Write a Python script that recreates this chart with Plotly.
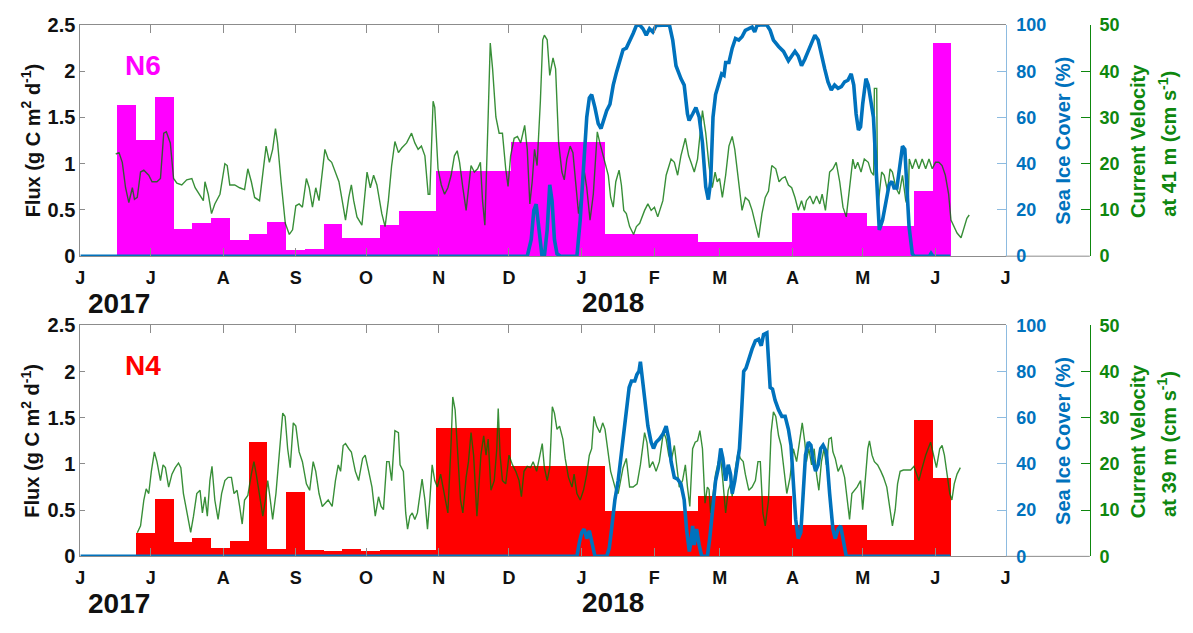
import pandas as pd
import plotly.graph_objects as go

# ---------------------------------------------------------------- data
T0 = pd.Timestamp("2017-06-01")          # day 0 of the mooring record

MONTH_TICKS = ["2017-06-01", "2017-07-01", "2017-08-01", "2017-09-01", "2017-10-01",
               "2017-11-01", "2017-12-01", "2018-01-01", "2018-02-01", "2018-03-01",
               "2018-04-01", "2018-05-01", "2018-06-01", "2018-07-01"]
MONTH_LABELS = ["J", "J", "A", "S", "O", "N", "D", "J", "F", "M", "A", "M", "J", "J"]

FLUX_TICKS = [0, 0.5, 1, 1.5, 2, 2.5]
FLUX_LABELS = ["0", "0.5", "1", "1.5", "2", "2.5"]
ICE_TICKS = [0, 20, 40, 60, 80, 100]
VEL_TICKS = [0, 10, 20, 30, 40, 50]

# sediment-trap cup boundaries (open/close dates) and carbon flux per cup
N6_CUPS = ["2017-06-17", "2017-06-25", "2017-07-03", "2017-07-11", "2017-07-19",
           "2017-07-27", "2017-08-04", "2017-08-12", "2017-08-20", "2017-08-28",
           "2017-09-05", "2017-09-13", "2017-09-21", "2017-09-29", "2017-10-07",
           "2017-10-15", "2017-10-31", "2017-12-02", "2018-01-11", "2018-02-20",
           "2018-04-01", "2018-05-03", "2018-05-23", "2018-05-31", "2018-06-08"]
N6_FLUX = [1.64, 1.26, 1.72, 0.29, 0.355, 0.415, 0.18, 0.235, 0.365, 0.07,
           0.075, 0.345, 0.195, 0.195, 0.34, 0.485, 0.92, 1.24, 0.24, 0.155,
           0.47, 0.33, 0.71, 2.30]

N4_CUPS = ["2017-06-25", "2017-07-03", "2017-07-11", "2017-07-19",
           "2017-07-27", "2017-08-04", "2017-08-12", "2017-08-20", "2017-08-28",
           "2017-09-05", "2017-09-13", "2017-09-21", "2017-09-29", "2017-10-07",
           "2017-10-15", "2017-10-31", "2017-12-02", "2018-01-11", "2018-02-20",
           "2018-04-01", "2018-05-03", "2018-05-23", "2018-05-31", "2018-06-08"]
N4_FLUX = [0.245, 0.62, 0.15, 0.195, 0.087, 0.157, 1.23, 0.08, 0.69, 0.065,
           0.055, 0.08, 0.055, 0.065, 0.065, 1.39, 0.975, 0.49, 0.645, 0.335,
           0.178, 1.475, 0.84]

# current velocity at 41 m, N6 (day of record, cm/s)
N6_VEL_DAY = [15.1, 16.5, 17.9, 19.3, 20.7, 22.2, 23.1, 24.3, 25.7, 27.1, 29.2, 30.6, 32.7, 34.2,
              35.6, 36.7, 38.4, 39.8, 41.2, 43.3, 45.4, 47.6, 49.0, 51.1, 52.5, 53.2, 54.6, 56.0,
              57.4, 59.6, 61.7, 62.7, 63.8, 65.9, 68.0, 70.1, 71.5, 73.0, 74.4, 76.5, 77.9, 79.3,
              80.7, 82.1, 83.3, 84.2, 85.7, 87.5, 89.2, 90.6, 92.0, 93.4, 94.8, 96.5, 97.7, 99.1,
              100.5, 101.9, 104.4, 105.8, 107.3, 108.9, 110.4, 111.8, 113.2, 114.6, 115.7, 116.7,
              118.1, 120.2, 122.4, 123.8, 125.2, 126.6, 128.7, 130.1, 131.5, 132.9, 134.3, 135.8,
              137.2, 139.3, 141.4, 142.8, 144.2, 145.6, 147.1, 148.5, 149.2, 150.6, 151.3, 152.7,
              154.1, 155.5, 156.9, 158.3, 159.7, 160.9, 161.9, 163.3, 164.7, 166.8, 168.2, 169.6,
              170.8, 171.7, 172.7, 174.1, 175.0, 176.0, 177.4, 178.8, 180.2, 181.6, 182.6, 183.7,
              185.2, 186.6, 188.0, 189.7, 190.8, 191.9, 192.9, 193.9, 195.0, 196.4, 197.4, 198.1,
              199.3, 200.4, 201.8, 202.9, 204.2, 205.6, 206.6, 207.7, 209.1, 210.3, 211.3, 212.7,
              214.1, 215.2, 216.2, 217.6, 219.0, 220.7, 221.8, 223.3, 225.4, 226.4, 227.5, 228.6,
              230.0, 231.0, 232.0, 233.1, 234.5, 236.2, 237.4, 238.8, 240.9, 242.3, 243.7, 245.1,
              246.5, 248.7, 250.1, 252.2, 253.6, 255.0, 256.4, 258.3, 259.7, 260.7, 262.1, 263.5,
              264.9, 265.6, 267.0, 268.4, 269.8, 271.0, 271.9, 272.9, 274.1, 275.5, 276.9, 278.3,
              279.4, 280.4, 281.4, 282.5, 283.9, 285.4, 286.8, 288.2, 289.6, 291.0, 292.4, 293.8,
              295.2, 296.9, 298.3, 299.5, 300.9, 302.3, 303.7, 305.1, 306.5, 307.9, 309.1, 310.0,
              311.5, 312.9, 314.3, 315.7, 316.7, 318.1, 319.9, 321.3, 322.7, 324.2, 325.6, 327.0,
              328.4, 329.8, 330.8, 331.9, 333.3, 334.7, 336.4, 337.6, 338.7, 339.0, 340.0, 340.4,
              341.1, 342.1, 343.2, 344.6, 345.7, 346.7, 348.2, 349.6, 351.0, 352.4, 353.4, 353.9,
              355.2, 356.6, 358.0, 359.4, 360.9, 362.3, 363.7, 365.1, 366.5, 367.9, 369.3, 370.7,
              371.7, 372.9, 374.3, 376.0, 377.1, 378.5, 379.5]
N6_VEL = [22.1, 22.4, 20.3, 14.8, 11.6, 14.8, 12.3, 12.7, 18.2, 18.6, 17.5, 16.1, 16.1, 16.8,
          26.6, 26.9, 24.5, 16.8, 15.8, 15.4, 16.5, 16.8, 14.8, 13.0, 12.0, 16.1, 13.4, 9.2,
          11.3, 13.4, 20.0, 19.6, 15.4, 15.4, 14.8, 14.4, 18.9, 16.1, 12.7, 12.0, 17.5, 23.8,
          20.3, 23.1, 27.6, 24.5, 16.1, 7.1, 4.7, 5.7, 10.9, 11.3, 10.6, 16.8, 14.8, 10.6,
          14.8, 12.0, 23.1, 21.0, 20.3, 17.9, 16.1, 12.0, 7.8, 12.7, 15.4, 12.0,
          8.5, 6.7, 18.2, 14.8, 17.5, 15.4, 9.2, 6.4, 12.0, 19.6, 24.8, 22.4,
          23.4, 24.5, 26.6, 24.5, 23.1, 23.8, 21.7, 13.4, 13.4, 33.5, 32.2, 18.9,
          15.4, 13.4, 14.8, 17.5, 21.7, 22.8, 20.3, 14.8, 9.9, 19.6, 18.2, 18.9,
          20.3, 12.0, 6.7, 30.1, 46.1, 40.5, 30.1, 26.6, 26.6, 18.9, 15.1, 21.7,
          25.5, 25.9, 24.5, 28.3, 23.1, 11.3, 16.1, 23.1, 19.6, 33.5, 46.8, 47.8,
          46.8, 39.1, 42.9, 40.5, 24.5, 18.2, 16.5, 21.0, 23.8, 22.4, 17.5, 9.2,
          14.1, 18.2, 14.8, 7.8, 13.4, 26.9, 24.5, 21.7, 17.5, 12.7, 10.6, 16.1,
          18.6, 15.4, 9.9, 9.2, 6.4, 4.7, 6.4, 7.1, 9.9, 11.3, 9.9, 10.6,
          8.5, 12.0, 17.5, 21.0, 20.3, 17.5, 21.7, 25.5, 21.7, 20.3, 18.2, 21.0,
          27.3, 31.5, 26.6, 19.6, 14.8, 18.2, 16.1, 16.8, 12.7, 17.5, 23.8, 25.9,
          23.1, 18.9, 15.4, 9.9, 12.7, 12.0, 9.9, 7.1, 4.0, 9.2, 12.7, 14.1,
          19.6, 18.9, 16.1, 16.8, 17.2, 15.4, 14.8, 12.7, 9.9, 12.0, 9.9, 12.0,
          13.0, 11.3, 13.0, 11.3, 13.4, 9.9, 18.2, 18.9, 20.3, 16.1, 10.6, 8.5,
          14.8, 21.0, 18.9, 20.3, 18.2, 21.0, 20.3, 18.2, 17.5, 36.3, 36.3, 9.9,
          13.4, 18.2, 17.5, 14.1, 18.9, 18.2, 14.8, 13.4, 17.5, 12.0, 10.6, 21.0,
          18.9, 21.0, 18.9, 21.0, 18.9, 21.0, 18.9, 20.3, 20.3, 19.6, 17.5, 13.4,
          7.8, 6.4, 5.0, 4.0, 5.7, 8.2, 8.9]

# sea ice cover above N6 (day of record, %)
N6_ICE_DAY = [0, 190.8, 192.5, 193.6, 194.6, 195.7, 197.1, 198.1, 199.3, 200.4, 201.4, 202.4,
              203.5, 205.0, 212.0, 213.4, 214.8, 216.2, 217.3, 218.3, 219.7, 221.1, 222.3, 223.3,
              224.7, 226.1, 227.5, 228.9, 230.3, 231.7, 233.1, 234.5, 236.0, 237.4, 238.8, 240.2,
              241.6, 243.0, 244.4, 245.8, 248.7, 251.5, 252.9, 254.3, 256.4, 257.8, 259.2, 259.9,
              261.4, 262.8, 264.2, 265.6, 267.0, 268.1, 269.1, 270.1, 271.2, 272.6, 273.8, 274.8,
              275.5, 276.9, 278.3, 279.7, 281.1, 282.5, 283.9, 285.4, 286.8, 287.9, 288.9, 290.3,
              293.1, 294.5, 295.9, 298.1, 300.2, 302.3, 303.7, 305.1, 306.5, 307.9, 309.3, 310.8,
              312.2, 313.6, 315.0, 316.4, 317.8, 319.2, 320.6, 322.0, 323.5, 324.9, 326.3, 327.7,
              329.1, 330.2, 331.2, 332.2, 333.1, 334.0, 335.4, 336.4, 337.6, 338.6, 339.3, 340.1,
              341.1, 342.5, 343.9, 345.3, 346.5, 347.4, 348.6, 350.0, 351.0, 352.0, 352.8, 353.8,
              355.2, 356.0, 362.5, 363.2, 364.0, 371.4]
N6_ICE = [0, 0, 7.2, 19.8, 22.5, 12.8, 0, 0, 11.4, 30.9, 23.9, 7.2,
          1.0, 0, 0, 15.6, 39.2, 60.1, 68.5, 69.9, 64.3, 57.3, 55.2, 58.7,
          62.9, 65.7, 74.0, 79.6, 85.2, 89.3, 90.0, 92.8, 96.3, 99.8, 100, 98.4,
          95.6, 98.4, 97.0, 99.8, 100, 100, 93.5, 82.4, 76.8, 74.0, 61.5, 58.7,
          61.5, 64.3, 60.1, 49.0, 30.0, 24.5, 32.3, 60.1, 69.9, 75.4, 78.9, 78.2,
          83.8, 83.8, 90.0, 94.2, 93.5, 94.9, 97.7, 98.4, 99.1, 97.0, 99.8, 100,
          100, 97.7, 93.5, 90.7, 88.6, 84.5, 86.6, 88.6, 86.6, 82.4, 85.2, 88.6,
          92.1, 95.6, 93.5, 88.0, 81.0, 75.4, 71.9, 74.0, 72.6, 73.3, 75.4, 76.1,
          78.9, 74.0, 61.5, 54.6, 55.9, 65.7, 76.8, 74.0, 67.1, 60.1, 46.2, 28.1,
          11.4, 15.6, 23.9, 30.9, 32.3, 29.5, 29.5, 40.6, 47.6, 46.2, 32.3, 12.8,
          1.0, 0, 0, 1.2, 0, 0]

# current velocity at 39 m, N4 (day of record, cm/s)
N4_VEL_DAY = [24.3, 25.7, 27.1, 28.1, 29.2, 30.3, 31.6, 32.7, 34.2, 35.3, 36.3, 37.7, 39.1, 40.5,
              41.9, 42.9, 44.0, 45.4, 47.1, 48.3, 49.7, 51.1, 52.1, 53.2, 54.2, 55.3, 56.2, 57.4,
              58.8, 60.3, 61.7, 63.1, 64.5, 65.6, 66.9, 68.0, 69.1, 70.1, 71.5, 73.0, 74.1, 75.1,
              76.5, 77.9, 79.0, 80.0, 81.1, 82.1, 83.5, 85.0, 86.4, 87.4, 88.5, 89.6, 90.9, 92.0,
              93.4, 94.8, 96.5, 97.9, 99.4, 100.5, 101.9, 103.3, 104.4, 105.8, 107.5, 108.9, 110.1,
              111.1, 112.2, 113.2, 114.6, 115.7, 117.4, 118.8, 120.5, 121.6, 123.1, 124.5, 125.9,
              127.3, 128.4, 129.4, 130.8, 131.8, 132.9, 134.3, 135.8, 136.5, 137.9, 138.9, 139.7,
              140.7, 141.7, 142.8, 143.9, 144.9, 145.9, 147.1, 148.2, 149.2, 150.2, 151.3, 152.4,
              153.8, 155.2, 156.9, 158.3, 159.0, 160.0, 161.2, 162.3, 163.3, 164.7, 165.7, 166.8,
              167.9, 169.3, 170.3, 171.0, 172.2, 173.2, 174.1, 175.3, 176.7, 177.8, 178.4, 179.2,
              180.2, 181.6, 183.0, 184.5, 185.9, 187.3, 188.3, 189.4, 190.8, 192.2, 193.3, 194.8,
              196.2, 197.2, 198.1, 199.3, 200.4, 201.5, 202.4, 203.5, 204.6, 206.0, 207.0, 208.4,
              209.9, 210.8, 212.0, 213.4, 214.8, 216.2, 217.3, 218.3, 219.3, 220.4, 221.8, 223.0,
              224.0, 225.0, 226.4, 227.5, 228.6, 229.6, 230.7, 231.7, 233.1, 234.5, 236.0, 237.7,
              239.1, 240.9, 241.9, 243.0, 244.4, 245.8, 247.2, 248.7, 249.4, 250.1, 251.2, 252.2,
              253.6, 254.6, 255.7, 257.1, 258.3, 259.2, 260.2, 261.4, 262.5, 263.5, 264.5, 265.6,
              266.7, 267.7, 268.4, 269.1, 270.1, 271.2, 272.4, 273.4, 274.3, 275.5, 276.6, 277.6,
              278.3, 279.7, 280.8, 281.8, 283.0, 283.9, 285.4, 286.8, 288.2, 289.3, 290.3, 291.4,
              292.4, 293.8, 294.9, 295.9, 296.9, 298.1, 299.2, 300.6, 301.6, 303.0, 304.4, 305.8,
              307.2, 308.2, 309.3, 310.0, 311.0, 312.2, 313.3, 314.3, 315.3, 316.4, 317.5, 318.5,
              319.6, 320.6, 321.3, 322.3, 323.5, 324.9, 326.3, 327.4, 328.4, 329.4, 330.5, 331.6,
              333.1, 334.0, 335.2, 336.2, 336.9, 338.0, 339.0, 340.4, 341.8, 342.9, 344.3, 345.8,
              346.7, 347.9, 348.9, 350.0, 351.4, 352.8, 354.5, 355.9, 357.0, 358.0, 359.0, 360.9,
              363.0, 364.4, 365.5, 366.9, 367.9, 368.9, 370.0, 371.2, 372.1, 373.1, 374.3, 375.7]
N4_VEL = [5.1, 6.6, 12.2, 14.6, 13.6, 18.4, 22.6, 20.5, 16.4, 19.8, 19.2, 15.0, 17.8, 19.2,
          20.2, 19.2, 13.6, 9.4, 5.2, 8.7, 13.6, 14.3, 9.4, 12.9, 8.7, 16.4, 19.5, 12.2,
          8.0, 13.6, 16.4, 17.1, 17.1, 13.6, 14.3, 10.8, 7.0, 12.2, 13.2, 17.8, 20.5, 17.8,
          12.9, 8.7, 12.2, 16.4, 12.2, 8.0, 13.6, 21.9, 31.0, 30.3, 23.3, 19.2, 28.9, 28.2,
          22.6, 20.5, 15.7, 14.3, 20.5, 18.4, 13.6, 10.8, 11.5, 12.2, 10.8, 16.4, 19.8,
          18.4, 24.0, 24.4, 23.3, 22.6, 18.4, 16.4, 21.2, 21.9, 18.4, 15.0, 8.7,
          12.9, 10.8, 10.1, 20.5, 20.5, 16.4, 27.2, 26.8, 19.8, 18.4, 9.4, 5.9,
          8.7, 9.4, 8.0, 9.4, 13.6, 16.7, 12.2, 5.9, 12.2, 19.8, 16.4, 15.0,
          17.8, 13.6, 9.4, 24.7, 34.5, 31.7, 21.9, 12.2, 9.4, 17.1, 20.5, 26.8,
          21.9, 8.7, 16.4, 21.9, 26.1, 21.9, 25.4, 14.3, 16.4, 23.3, 32.0, 21.9,
          16.4, 15.7, 21.9, 19.8, 18.4, 16.4, 12.9, 18.4, 19.5, 19.2, 20.5, 18.4,
          21.9, 24.4, 19.2, 16.4, 19.2, 32.4, 31.0, 27.5, 28.2, 25.4, 21.2, 17.1,
          15.0, 17.8, 13.6, 12.2, 14.3, 17.8, 21.9, 23.3, 30.3, 28.2, 26.8, 28.9,
          27.5, 24.0, 18.4, 16.4, 14.3, 13.6, 16.4, 19.2, 21.2, 15.0, 15.0, 15.7,
          19.8, 26.8, 24.7, 19.2, 20.5, 18.4, 20.5, 26.1, 26.4, 25.4, 21.9, 20.5,
          24.0, 19.2, 15.0, 16.4, 19.8, 15.0, 10.8, 23.3, 24.7, 25.0, 27.2, 23.3,
          11.5, 15.0, 14.5, 9.4, 13.6, 17.8, 20.5, 21.2, 16.4, 9.4, 14.3, 15.7,
          12.9, 19.2, 22.6, 21.2, 20.5, 17.8, 14.3, 15.0, 16.4, 20.5, 20.5, 9.4,
          6.6, 12.2, 26.8, 31.3, 30.3, 26.1, 24.0, 17.8, 13.6, 17.1, 23.3, 20.5,
          26.1, 28.9, 24.7, 20.5, 23.3, 19.8, 23.3, 17.8, 14.3, 20.5, 23.3, 19.8,
          25.4, 25.7, 22.6, 21.2, 18.4, 19.8, 17.1, 12.2, 8.0, 13.6, 14.3, 15.0,
          16.4, 10.1, 17.1, 23.3, 25.0, 21.9, 20.5, 19.8, 18.4, 17.1, 15.0, 9.4,
          6.6, 10.1, 15.7, 18.4, 18.7, 18.7, 18.7, 19.5, 17.8, 16.4, 18.4, 21.9,
          24.7, 21.2, 19.2, 23.3, 24.0, 21.9, 17.8, 13.6, 12.2, 15.7, 17.8, 19.2]

# sea ice cover above N4 (day of record, %)
N4_ICE_DAY = [0, 212.0, 213.1, 214.1, 215.1, 216.2, 217.3, 218.3, 219.7, 224.7, 225.8, 226.8,
              228.2, 229.6, 231.0, 232.0, 233.1, 234.3, 235.3, 236.7, 237.6, 238.5, 239.1, 239.9,
              240.9, 242.3, 243.7, 244.7, 245.8, 247.2, 248.7, 250.1, 251.2, 252.2, 253.6, 255.0,
              256.4, 257.8, 258.8, 260.0, 260.7, 261.4, 262.1, 263.1, 264.2, 265.3, 266.7, 267.7,
              268.7, 269.8, 271.2, 272.4, 273.4, 274.3, 275.5, 276.6, 277.6, 278.3, 279.4, 280.4,
              281.4, 282.2, 283.2, 284.2, 285.4, 286.8, 288.2, 289.6, 290.7, 291.7, 293.1, 293.8,
              294.5, 295.5, 296.6, 298.1, 299.5, 300.9, 302.3, 303.4, 304.4, 305.4, 306.5, 307.6,
              308.6, 309.6, 310.8, 311.9, 312.9, 313.9, 315.0, 316.1, 317.1, 318.5, 319.9, 321.3,
              322.3, 323.5, 324.6, 325.6, 327.0, 371.4]
N4_ICE = [0, 0, 6.3, 10.4, 11.8, 7.7, 11.1, 6.3, 0, 0, 3.5, 11.8,
          24.4, 32.7, 43.9, 55.0, 63.4, 73.1, 75.9, 75.9, 78.7, 80.1, 84.3, 77.3,
          69.0, 56.4, 49.4, 46.7, 49.4, 50.8, 52.9, 56.4, 50.8, 41.1, 34.1, 33.4,
          31.3, 24.4, 11.8, 2.1, 6.3, 13.2, 4.9, 11.8, 4.9, 0, 0, 0,
          7.7, 18.8, 32.7, 38.3, 46.7, 42.5, 32.7, 39.7, 35.5, 27.2, 32.7, 39.7,
          46.7, 60.6, 80.1, 81.5, 85.7, 89.8, 93.3, 94.0, 91.2, 96.1, 96.8, 85.7,
          73.1, 72.4, 67.6, 63.4, 60.6, 60.6, 55.0, 48.1, 30.0, 16.0, 7.7, 10.4,
          27.2, 43.9, 49.4, 48.1, 41.1, 36.9, 39.7, 46.7, 48.1, 45.3, 27.2, 11.8,
          7.7, 11.8, 13.2, 7.7, 0, 0]

# ---------------------------------------------------------------- styling
W, H = 1193, 633
FONT = "Liberation Sans, Arial, sans-serif"
BLACK = "#111111"
AXIS_GREY = "#8c8c8c"
ICE_BLUE = "#0072BD"
ICE_AXIS = "#8dbbe0"
VEL_GREEN = "#0e870e"
VEL_LINE = "rgba(0,112,0,0.78)"

X_LEFT, X_RIGHT, X_VEL = 76, 1009, 1094
PANELS = [  # (top px, bottom px)
    (14.5, 254.0),
    (325.7, 565.0),
]


def px(x):
    return x / W


def py(y):
    return 1 - y / H


def days_to_dates(days):
    return [T0 + pd.Timedelta(days=d) for d in days]


def trap_bars(cups, flux, color):
    edges = pd.to_datetime(cups)
    starts = edges[:-1]
    widths = [(b - a).total_seconds() * 1000 for a, b in zip(edges[:-1], edges[1:])]
    return dict(x=list(starts), y=flux, width=widths, offset=0,
                marker=dict(color=color, line=dict(width=0)), showlegend=False)


def bold(size, color):
    return dict(family=FONT, size=size, color=color, weight="bold")


fig = go.Figure()

stations = [
    dict(name="N6", color="#FF00FF", cups=N6_CUPS, flux=N6_FLUX,
         vel_day=N6_VEL_DAY, vel=N6_VEL, ice_day=N6_ICE_DAY, ice=N6_ICE, depth="41"),
    dict(name="N4", color="#FF0000", cups=N4_CUPS, flux=N4_FLUX,
         vel_day=N4_VEL_DAY, vel=N4_VEL, ice_day=N4_ICE_DAY, ice=N4_ICE, depth="39"),
]

layout = {}
annotations = []
shapes = []

for i, (st, (top, bot)) in enumerate(zip(stations, PANELS)):
    xa = "x" if i == 0 else "x2"
    ya_flux = "y" if i == 0 else "y4"
    ya_vel = "y2" if i == 0 else "y5"
    ya_ice = "y3" if i == 0 else "y6"

    fig.add_trace(go.Bar(xaxis=xa, yaxis=ya_flux, **trap_bars(st["cups"], st["flux"], st["color"])))
    fig.add_trace(go.Scatter(x=days_to_dates(st["vel_day"]), y=st["vel"], mode="lines",
                             line=dict(color=VEL_LINE, width=1.4), xaxis=xa, yaxis=ya_vel,
                             showlegend=False))
    fig.add_trace(go.Scatter(x=days_to_dates(st["ice_day"]), y=st["ice"], mode="lines",
                             line=dict(color=ICE_BLUE, width=3.6), xaxis=xa, yaxis=ya_ice,
                             showlegend=False))

    dom = [py(bot), py(top)]
    xkey = "xaxis" if i == 0 else "xaxis2"
    layout[xkey] = dict(
        domain=[px(X_LEFT), px(X_RIGHT)], anchor=ya_flux, type="date",
        range=[MONTH_TICKS[0], MONTH_TICKS[-1]],
        tickmode="array", tickvals=MONTH_TICKS, ticktext=MONTH_LABELS,
        ticks="inside", ticklen=8, tickcolor=AXIS_GREY, mirror="ticks",
        showline=True, linecolor=AXIS_GREY, linewidth=1,
        showgrid=False, zeroline=False, tickfont=bold(18, BLACK), ticklabelstandoff=5,
    )
    fkey = "yaxis" if i == 0 else "yaxis4"
    layout[fkey] = dict(
        domain=dom, anchor=xa, range=[0, 2.5],
        tickmode="array", tickvals=FLUX_TICKS, ticktext=FLUX_LABELS,
        ticks="inside", ticklen=5, tickcolor=AXIS_GREY,
        showline=True, linecolor=AXIS_GREY, linewidth=1,
        showgrid=False, zeroline=False, tickfont=bold(20, BLACK),
    )
    vkey = "yaxis2" if i == 0 else "yaxis5"
    layout[vkey] = dict(
        overlaying=ya_flux, side="right", anchor="free", position=px(X_VEL),
        range=[0, 50], tickmode="array", tickvals=VEL_TICKS,
        ticks="inside", ticklen=9, tickcolor=VEL_GREEN,
        showline=True, linecolor=VEL_GREEN, linewidth=1,
        showgrid=False, zeroline=False, tickfont=bold(18, VEL_GREEN), ticklabelstandoff=5,
    )
    ikey = "yaxis3" if i == 0 else "yaxis6"
    layout[ikey] = dict(
        overlaying=ya_flux, side="right", anchor="free", position=px(X_RIGHT),
        range=[0, 100], tickmode="array", tickvals=ICE_TICKS,
        ticks="inside", ticklen=9, tickcolor=ICE_AXIS,
        showline=True, linecolor=ICE_AXIS, linewidth=1,
        showgrid=False, zeroline=False, tickfont=bold(18, ICE_BLUE), ticklabelstandoff=6,
    )

    mid = (top + bot) / 2
    ann = dict(xref="paper", yref="paper", showarrow=False, textangle=-90,
               xanchor="center", yanchor="middle")
    annotations += [
        dict(ann, x=px(26), y=py(mid), text="Flux (g C m<sup>2</sup> d<sup>-1</sup>)",
             font=bold(20, BLACK)),
        dict(ann, x=px(1067), y=py(mid), text="Sea Ice Cover (%)",
             font=bold(20, ICE_BLUE)),
        dict(ann, x=px(1142), y=py(mid), text="Current Velocity",
             font=bold(20, VEL_GREEN)),
        dict(ann, x=px(1172), y=py(mid + 3), text=f"at {st['depth']} m (cm s<sup>-1</sup>)",
             font=bold(20, VEL_GREEN)),
    ]
    plain = dict(xref="paper", yref="paper", showarrow=False, xanchor="center", yanchor="middle")
    annotations += [
        dict(plain, x=px(139), y=py(top + 42), text=st["name"], font=bold(28, st["color"])),
        dict(plain, x=px(115), y=py(bot + 49), text="2017", font=bold(28, BLACK)),
        dict(plain, x=px(613), y=py(bot + 48), text="2018", font=bold(28, BLACK)),
    ]
    shapes.append(dict(type="line", xref="paper", yref="paper",
                       x0=px(X_RIGHT), x1=px(X_VEL), y0=py(bot), y1=py(bot),
                       line=dict(color=AXIS_GREY, width=1), layer="below"))

fig.update_layout(
    width=W, height=H, margin=dict(l=0, r=0, t=0, b=0),
    paper_bgcolor="white", plot_bgcolor="white",
    bargap=0, barmode="overlay", showlegend=False,
    annotations=annotations, shapes=shapes,
    **layout,
)

fig.write_html("out.html")
